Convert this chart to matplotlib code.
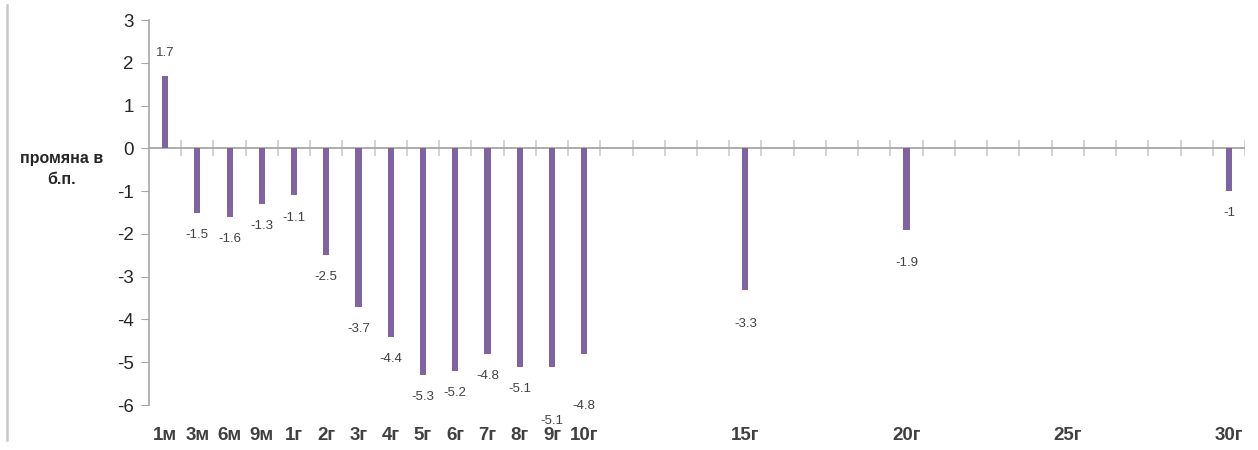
import matplotlib.pyplot as plt
from matplotlib.lines import Line2D

# tenors: 1m..9m, then 1y..30y (one slot per year)
tenors = ["1м", "3м", "6м", "9м"] + [f"{y}г" for y in range(1, 31)]
shown = {"1м", "3м", "6м", "9м", "15г", "20г", "25г", "30г"} | {f"{y}г" for y in range(1, 11)}
change = {
    "1м": 1.7, "3м": -1.5, "6м": -1.6, "9м": -1.3, "1г": -1.1,
    "2г": -2.5, "3г": -3.7, "4г": -4.4, "5г": -5.3, "6г": -5.2,
    "7г": -4.8, "8г": -5.1, "9г": -5.1, "10г": -4.8,
    "15г": -3.3, "20г": -1.9, "30г": -1.0,
}
# hand-moved labels in the original (extra distance from the bar end, pt)
label_shift = {"9г": 23, "10г": 22, "15г": 9, "20г": 8}

PURPLE = "#8064a2"
TXT = "#404040"

plt.rcParams["font.family"] = ["Liberation Sans", "DejaVu Sans"]
plt.rcParams["axes.unicode_minus"] = False

fig = plt.figure(figsize=(12.58, 4.5), dpi=100)
ax = fig.add_axes([149 / 1258, 45 / 450, 1096 / 1258, 385 / 450])

xs = [i for i, t in enumerate(tenors) if t in change]
vals = [change[tenors[i]] for i in xs]
ax.bar(xs, vals, width=0.19, color=PURPLE, zorder=3)

for x, v in zip(xs, vals):
    t = tenors[x]
    off = 16 + label_shift.get(t, 0)
    ax.annotate(f"{v:g}", (x, v), xytext=(0, off if v > 0 else -off), textcoords="offset points",
                ha="center", va="center", fontsize=9.5, color=TXT)

ax.set_xlim(-0.5, len(tenors) - 0.5)
ax.set_ylim(-6, 3)

# zero line with crossing category separators
ax.axhline(0, color="#a6a6a6", lw=1.3, zorder=2)
ax.vlines([i + 0.5 for i in range(len(tenors))], -0.19, 0.19, color="#d0d0d0", lw=1.3, zorder=1)

ax.set_xticks(range(len(tenors)))
ax.set_xticklabels([t if t in shown else "" for t in tenors], fontsize=13.5,
                   fontweight="bold", color=TXT)
ax.tick_params(axis="x", length=0, pad=16)

ax.set_yticks(range(-6, 4))
ax.tick_params(axis="y", direction="out", length=6, color="#a6a6a6", labelsize=13.5,
               labelcolor="#262626", pad=5)

for s in ["top", "right", "bottom"]:
    ax.spines[s].set_visible(False)
ax.spines["left"].set_color("#a6a6a6")
ax.spines["left"].set_linewidth(1.2)

fig.text(62 / 1258, 1 - 169 / 450, "промяна в\nб.п.", ha="center", va="center",
         fontsize=11.5, fontweight="bold", color="#262626", linespacing=1.5)

# thin frame edge at the far left of the original image
fig.add_artist(Line2D([7 / 1258, 7 / 1258], [1 - 5 / 450, 1 - 440 / 450],
                      transform=fig.transFigure, color="#c8c8c8", lw=1.8))

fig.savefig("out.png", dpi=100)
